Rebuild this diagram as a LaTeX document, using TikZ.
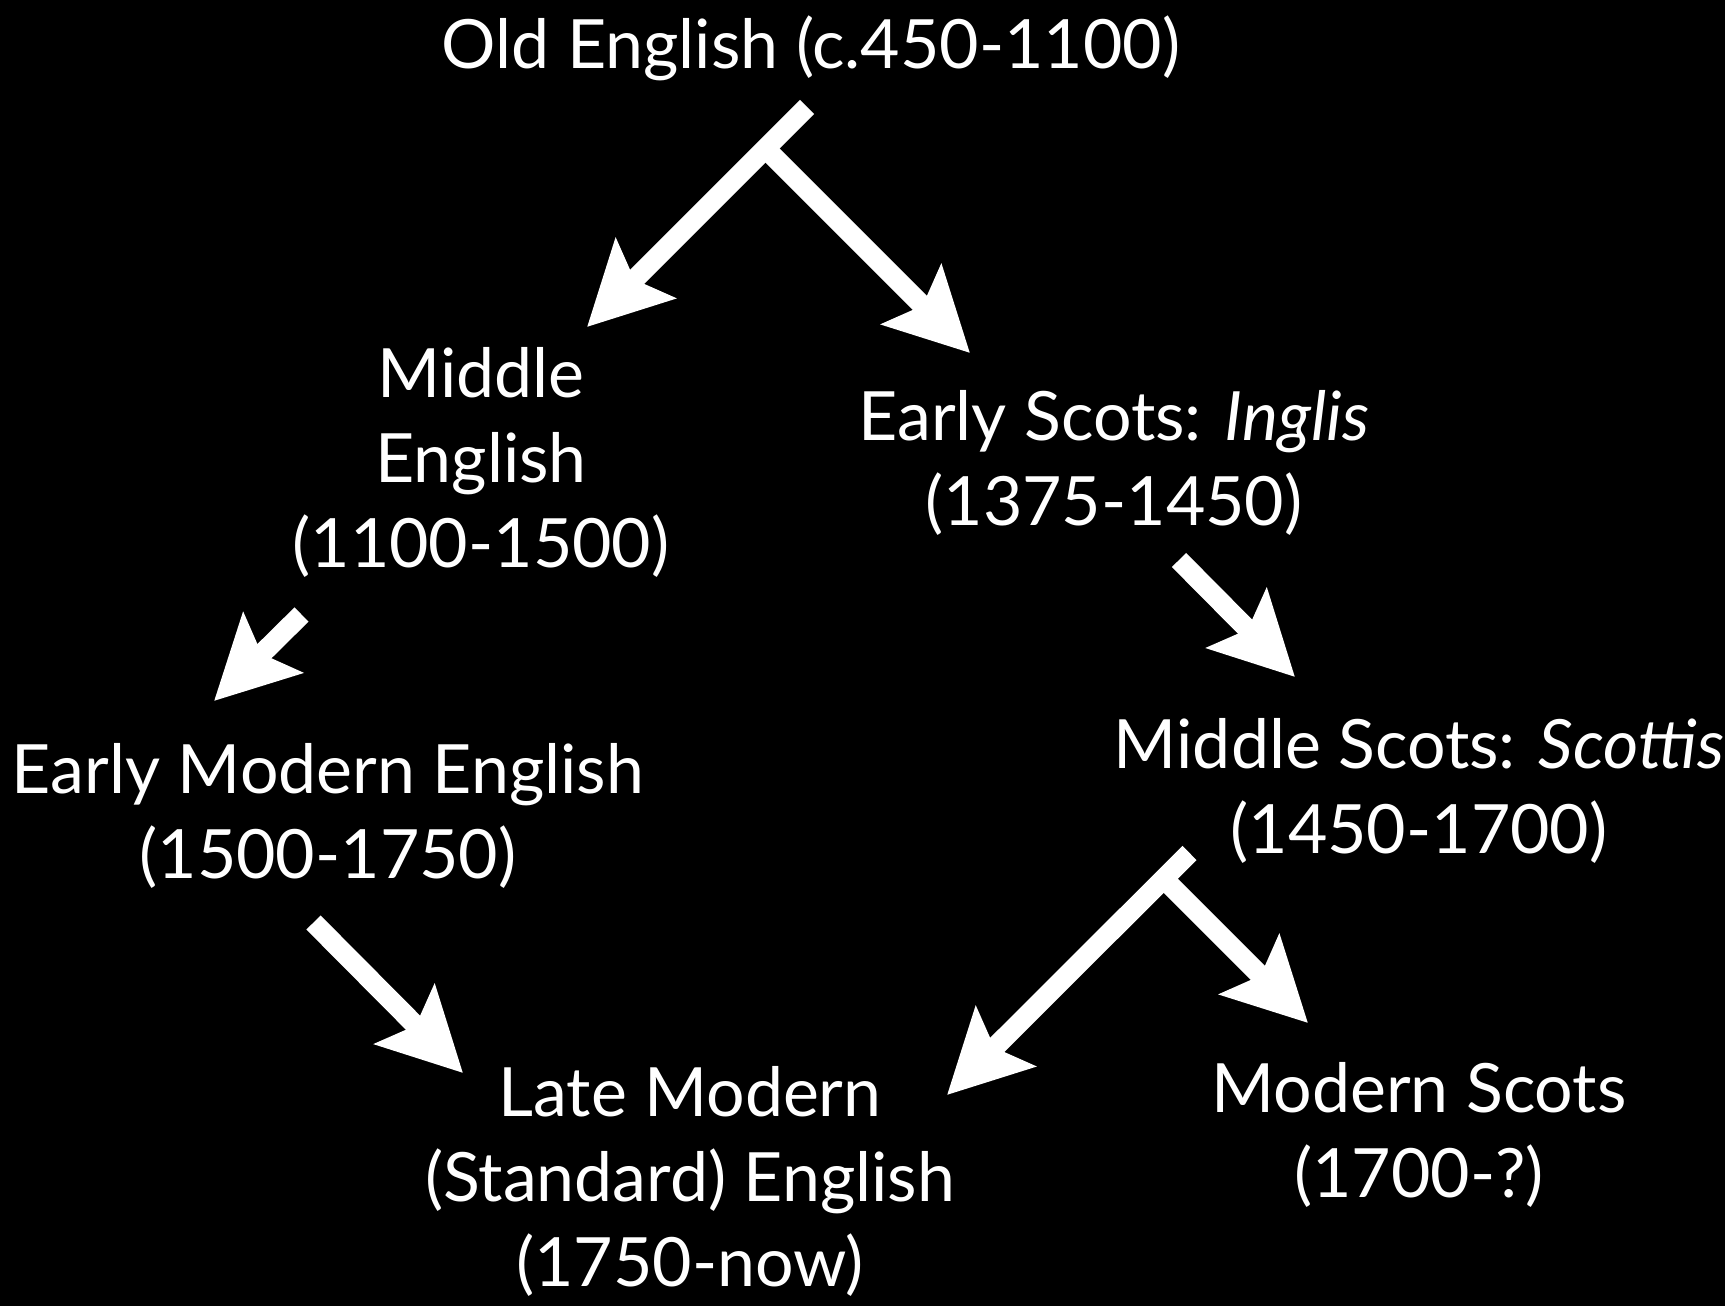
\documentclass[tikz,border=0pt]{standalone}
\usepackage{fontspec}
\setmainfont{Lato}
\usetikzlibrary{arrows.meta}
\tikzset{
  lbl/.style={text=white, align=center, inner sep=0pt, font=\fontsize{34}{42.5}\selectfont},
  bigarrow/.style={draw=white, line width=10pt, line cap=butt,
    -{Stealth[length=41pt, width=41.5pt, inset=7.5pt]}},
}
\begin{document}
\begin{tikzpicture}[x=0.5pt, y=-0.5pt]
\fill[black] (0,0) rectangle (1725,1306);
\useasboundingbox (0,0) rectangle (1725,1306);

\node[lbl] (oe)  at (811,48)   {Old English (c.450-1100)};
\node[lbl] (me)  at (481,462)  {Middle\\English\\(1100-1500)};
\node[lbl] (es)  at (1114,463) {Early Scots: \textit{Inglis}\\(1375-1450)};
\node[lbl] (eme) at (328,816)  {Early Modern English\\(1500-1750)};
\node[lbl] (ms)  at (1419,791) {Middle Scots: \textit{Scottis}\\(1450-1700)};
\node[lbl] (lme) at (690,1181) {Late Modern\\(Standard) English\\(1750-now)};
\node[lbl] (mos) at (1419,1135) {Modern Scots\\(1700-?)};

\coordinate (s1) at (807,107);
\coordinate (t1) at (587,327);
\coordinate (j1) at (765.5,148.5);
\coordinate (t2) at (970,353);
\coordinate (s3) at (301.5,614.5);
\coordinate (t3) at (214,701);
\coordinate (s4) at (313.5,922.5);
\coordinate (t4) at (463,1073);
\coordinate (s5) at (1179,560);
\coordinate (t5) at (1295,677);
\coordinate (s6) at (1189.5,853);
\coordinate (t6) at (947,1095);
\coordinate (j6) at (1163.75,878.75);
\coordinate (t7) at (1308,1023);

\draw[bigarrow] (s1) -- (t1);
\draw[bigarrow] (j1) -- (t2);
\draw[bigarrow] (s3) -- (t3);
\draw[bigarrow] (s4) -- (t4);
\draw[bigarrow] (s5) -- (t5);
\draw[bigarrow] (s6) -- (t6);
\draw[bigarrow] (j6) -- (t7);
\end{tikzpicture}
\end{document}
